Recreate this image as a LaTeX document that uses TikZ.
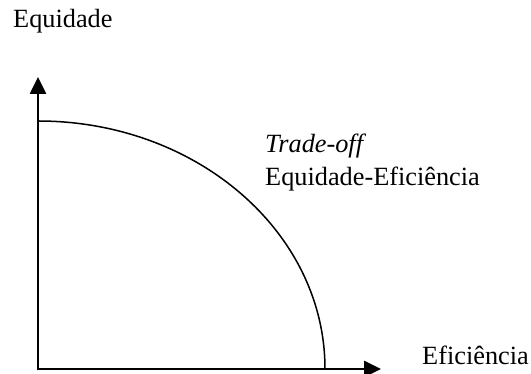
\documentclass[tikz,border=0pt]{standalone}
\usepackage{fontspec}
\setmainfont{Liberation Serif}
\usetikzlibrary{arrows.meta}
\tikzset{
  axis/.style={line width=2.6pt, -{Triangle[length=17pt,width=16pt]}},
  frontier/.style={line width=1.5pt},
  lbl/.style={anchor=base west, inner sep=0pt, font=\fontsize{26.3}{31}\selectfont}
}
\begin{document}
\begin{tikzpicture}[x=1pt,y=1pt]
\useasboundingbox (0,0) rectangle (531,374);
\coordinate (O) at (38,5);
\coordinate (ytip) at (38,297);
\coordinate (xtip) at (381,5);
\coordinate (cstart) at (38,253);
\draw[axis] ([yshift=-1.3pt]O) -- (ytip);
\draw[axis] ([xshift=-1.3pt]O) -- (xtip);
\draw[frontier] (cstart) arc[start angle=90, end angle=0, x radius=287, y radius=248];
\node[lbl] (ylab) at (13,346) {Equidade};
\node[lbl] (to) at (265,221) {\textit{Trade-off}};
\node[lbl] (ee) at (265,188) {Equidade-Eficiência};
\node[lbl] (xlab) at (422,9) {Eficiência};
\end{tikzpicture}
\end{document}
